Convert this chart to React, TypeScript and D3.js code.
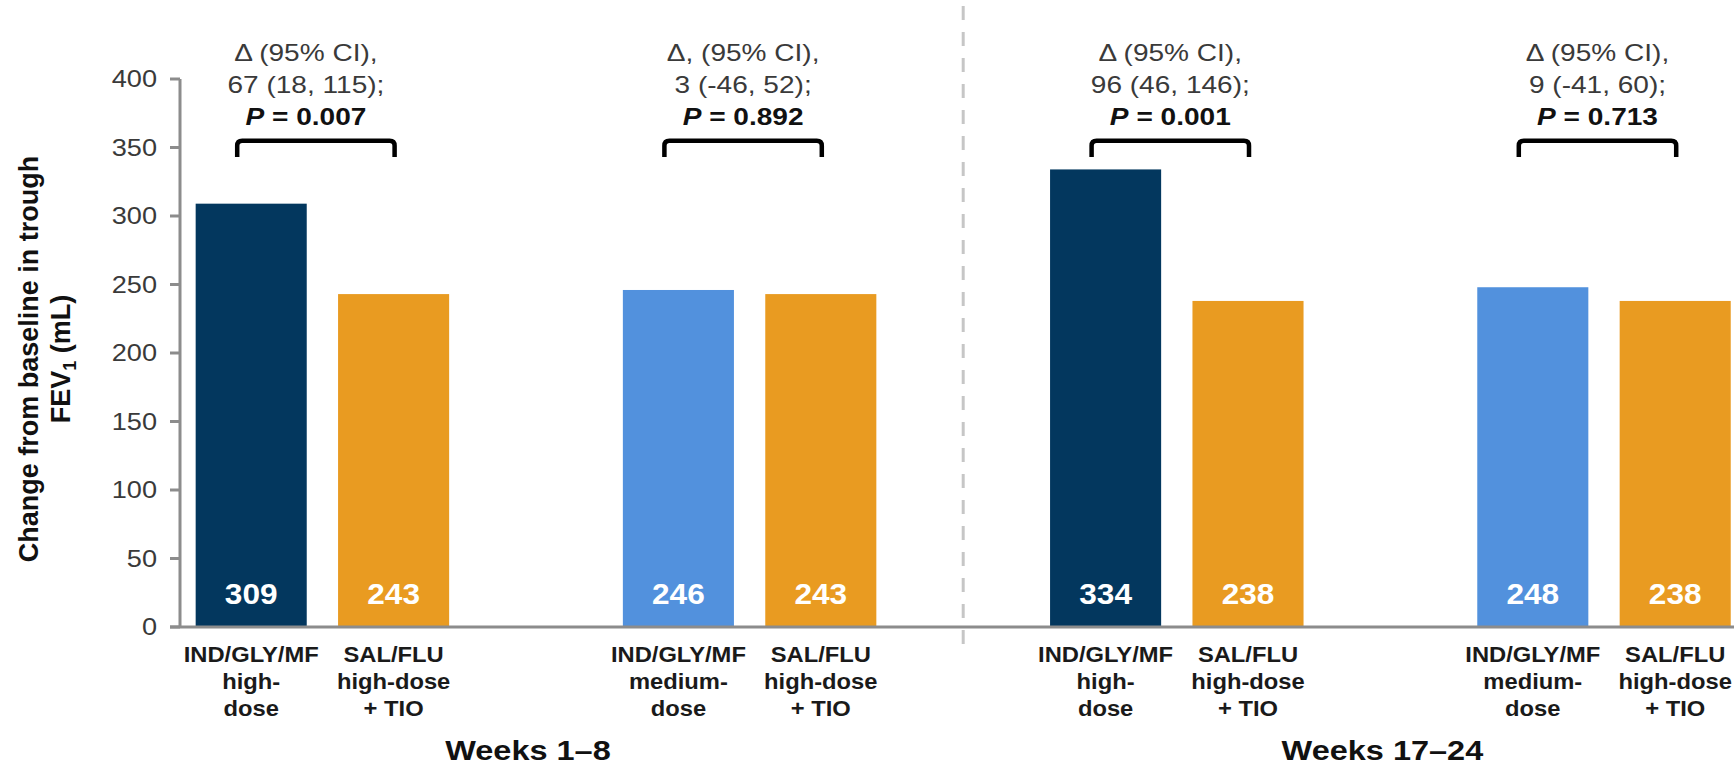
import React from "react";
import * as d3 from "d3";

// ---- data ----
const SLOT_KEYS = ["w1-hi", "w1-sal-a", "w1-gap", "w1-med", "w1-sal-b", "sep", "w17-hi", "w17-sal-a", "w17-gap", "w17-med", "w17-sal-b", "tail"];
const BAR_KEYS = ["w1-hi", "w1-sal-a", "w1-med", "w1-sal-b", "w17-hi", "w17-sal-a", "w17-med", "w17-sal-b"];
const BAR_VALUES = [309, 243, 246, 243, 334, 238, 248, 238];
const BAR_TREATMENTS = ["high", "salflu", "medium", "salflu", "high", "salflu", "medium", "salflu"];
const TREATMENT_LINES: Record<string, string[]> = {
  high: ["IND/GLY/MF", "high-", "dose"],
  medium: ["IND/GLY/MF", "medium-", "dose"],
  salflu: ["SAL/FLU", "high-dose", "+ TIO"],
};
const TREATMENT_COLORS: Record<string, string> = {
  high: "#03375E",
  medium: "#5291DD",
  salflu: "#E99B21",
};
const PERIOD_LABELS = ["Weeks 1–8", "Weeks 17–24"];
const PERIOD_SLOTS = ["w1-gap", "w17-gap"];
const SEPARATOR_SLOT = "sep";

const COMPARISON_PAIRS = [[0, 1], [2, 3], [4, 5], [6, 7]];
const COMPARISON_HEADERS = ["Δ (95% CI),", "Δ, (95% CI),", "Δ (95% CI),", "Δ (95% CI),"];
const COMPARISON_ESTIMATES = ["67 (18, 115);", "3 (-46, 52);", "96 (46, 146);", "9 (-41, 60);"];
const COMPARISON_P = ["0.007", "0.892", "0.001", "0.713"];
// horizontal nudge of each annotation block relative to its bracket
const COMPARISON_TEXT_SHIFT = [-10, 0, 0, 0];

const Y_TICKS = [0, 50, 100, 150, 200, 250, 300, 350, 400];

// ---- layout ----
const W = 1734;
const H = 765;
const FONT = "'Liberation Sans', Arial, Helvetica, sans-serif";
const AXIS_GRAY = "#8C8C8C";

const y = d3.scaleLinear().domain([0, 400]).range([627, 79]);
const x = d3
  .scaleBand<string>()
  .domain(SLOT_KEYS)
  .range([180, 180 + 12 * 142.4])
  .paddingInner(0.22)
  .paddingOuter(0.11);

const center = (key: string) => (x(key) as number) + x.bandwidth() / 2;

// bracket level in data units
const BRACKET_TOP = 355;
const BRACKET_LEG = 343;

function SText({ x: tx, y: ty, sx = 1, children, ...rest }: any) {
  return (
    <text transform={`translate(${tx},${ty}) scale(${sx},1)`} {...rest}>
      {children}
    </text>
  );
}

export default function App() {
  const y0 = y(0);
  const sepX = center(SEPARATOR_SLOT);

  return (
    <>
      <style>{"body{margin:0;background:#fff}"}</style>
      <svg width={W} height={H} viewBox={`0 0 ${W} ${H}`} style={{ display: "block" }} fontFamily={FONT}>
        <rect width={W} height={H} fill="#fff" />

        {/* period separator */}
        <line x1={sepX} x2={sepX} y1={6} y2={655} stroke="#C6C6C6" strokeWidth={3} strokeDasharray="14 12" />

        {/* bars */}
        {BAR_KEYS.map((k, i) => (
          <rect
            key={k}
            x={x(k)}
            y={y(BAR_VALUES[i])}
            width={x.bandwidth()}
            height={y0 - y(BAR_VALUES[i])}
            fill={TREATMENT_COLORS[BAR_TREATMENTS[i]]}
          />
        ))}

        {/* value labels inside bars */}
        {BAR_KEYS.map((k, i) => (
          <SText
            key={"v" + k}
            x={center(k)}
            y={y0 - 23}
            sx={1.09}
            textAnchor="middle"
            fontSize={29}
            fontWeight="bold"
            fill="#fff"
          >
            {BAR_VALUES[i]}
          </SText>
        ))}

        {/* y axis */}
        <line x1={180} x2={180} y1={y(400)} y2={y0} stroke={AXIS_GRAY} strokeWidth={3} />
        {Y_TICKS.map((t) => (
          <g key={t}>
            <line x1={170} x2={180} y1={y(t)} y2={y(t)} stroke={AXIS_GRAY} strokeWidth={3} />
            <SText x={157} y={y(t) + 8} sx={1.18} textAnchor="end" fontSize={23} fill="#3A3A3A">
              {t}
            </SText>
          </g>
        ))}
        {/* x baseline */}
        <line x1={170} x2={W} y1={y0} y2={y0} stroke={AXIS_GRAY} strokeWidth={3} />

        {/* y axis title */}
        <g transform={`translate(38,359) rotate(-90)`}>
          <text textAnchor="middle" fontSize={27} fontWeight="bold" fill="#111">
            Change from baseline in trough
          </text>
        </g>
        <g transform={`translate(69.5,359) rotate(-90)`}>
          <text textAnchor="middle" fontSize={27} fontWeight="bold" fill="#111">
            FEV
            <tspan fontSize={18} dy={6}>1</tspan>
            <tspan dy={-6}> (mL)</tspan>
          </text>
        </g>

        {/* category labels */}
        {BAR_KEYS.map((k, i) =>
          TREATMENT_LINES[BAR_TREATMENTS[i]].map((line, j) => (
            <SText
              key={"c" + k + j}
              x={center(k)}
              y={y0 + 35 + j * 27}
              sx={1.08}
              textAnchor="middle"
              fontSize={22}
              fontWeight="bold"
              fill="#1A1A1A"
            >
              {line}
            </SText>
          ))
        )}

        {/* period labels */}
        {PERIOD_LABELS.map((p, i) => (
          <SText
            key={p}
            x={center(PERIOD_SLOTS[i]) - 8}
            y={760}
            sx={1.16}
            textAnchor="middle"
            fontSize={28}
            fontWeight="bold"
            fill="#111"
          >
            {p}
          </SText>
        ))}

        {/* comparison brackets and annotations */}
        {COMPARISON_PAIRS.map(([a, b], i) => {
          const x1 = center(BAR_KEYS[a]) - 14;
          const x2 = center(BAR_KEYS[b]) + 1;
          const yt = y(BRACKET_TOP);
          const yl = y(BRACKET_LEG);
          const r = 5;
          const mid = (x1 + x2) / 2 + COMPARISON_TEXT_SHIFT[i];
          const path = `M${x1},${yl} L${x1},${yt + r} Q${x1},${yt} ${x1 + r},${yt} L${x2 - r},${yt} Q${x2},${yt} ${x2},${yt + r} L${x2},${yl}`;
          return (
            <g key={"cmp" + i}>
              <path d={path} fill="none" stroke="#000" strokeWidth={4.5} />
              <SText x={mid} y={yt - 80} sx={1.22} textAnchor="middle" fontSize={23} fill="#3A3A3A">
                {COMPARISON_HEADERS[i]}
              </SText>
              <SText x={mid} y={yt - 48} sx={1.22} textAnchor="middle" fontSize={23} fill="#3A3A3A">
                {COMPARISON_ESTIMATES[i]}
              </SText>
              <SText x={mid} y={yt - 16} sx={1.22} textAnchor="middle" fontSize={23} fontWeight="bold" fill="#111">
                <tspan fontStyle="italic">P</tspan>
                {" = " + COMPARISON_P[i]}
              </SText>
            </g>
          );
        })}
      </svg>
    </>
  );
}
